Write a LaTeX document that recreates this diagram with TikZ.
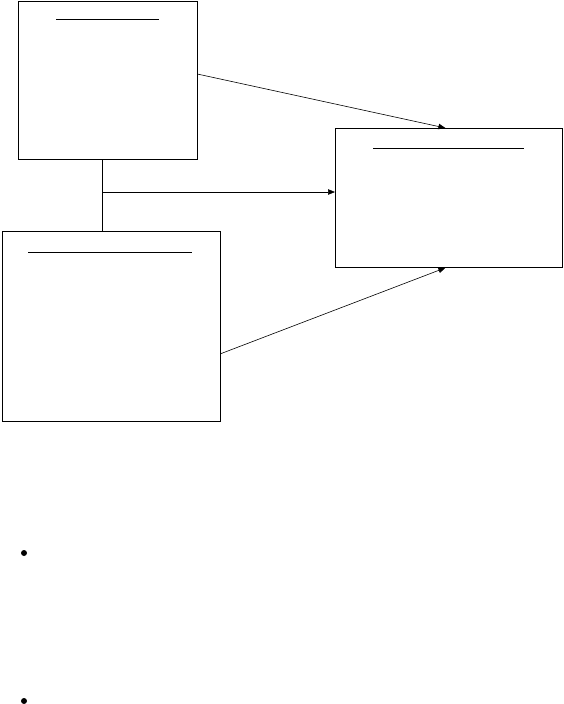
\documentclass[tikz,border=0pt]{standalone}
\usetikzlibrary{arrows.meta}

\tikzset{
  card/.style={draw, line width=0.8pt, inner sep=0pt, anchor=north west},
  link/.style={line width=0.6pt, -{Triangle[length=7pt,width=5.5pt]}}
}

\begin{document}
\begin{tikzpicture}[x=1pt,y=-1pt]
\useasboundingbox (0,0) rectangle (563,704);
\node[card, minimum width=179pt, minimum height=158pt] (boxA) at (18,1) {};
\draw[line width=0.8pt] (56,19) -- (159,19);
\node[card, minimum width=227pt, minimum height=139pt] (boxB) at (335,128) {};
\draw[line width=0.8pt] (373,148) -- (524,148);
\node[card, minimum width=218pt, minimum height=190pt] (boxC) at (2,231) {};
\draw[line width=0.8pt] (28,252) -- (192,252);
\coordinate (jn) at (102,192);
\draw[line width=0.8pt] (jn |- boxA.south) -- (jn |- boxC.north);
\draw[link] (jn) -- (jn -| boxB.west);
\draw[link] (boxA.4.5) -- ([xshift=-3.5pt]boxB.north);
\draw[link] (boxC.-14.4) -- ([xshift=-3.5pt]boxB.south);
\fill (24,553) circle (3);
\fill (24,701) circle (3);
\end{tikzpicture}
\end{document}
